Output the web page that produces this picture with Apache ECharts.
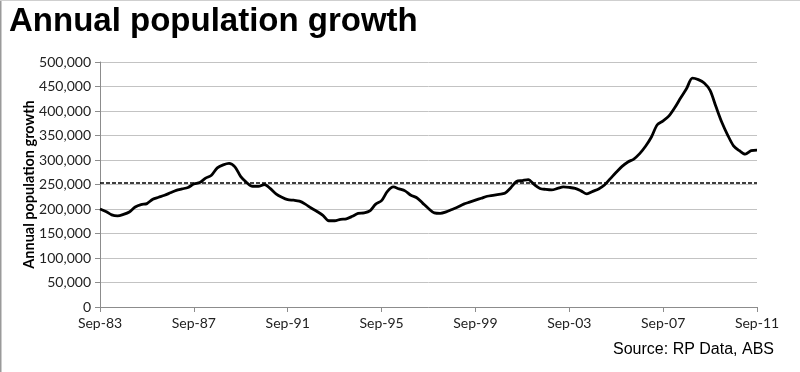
<!DOCTYPE html>
<html>
<head>
<meta charset="utf-8">
<script src="https://cdn.jsdelivr.net/npm/echarts@6/dist/echarts.min.js"></script>
<style>
html,body{margin:0;padding:0;background:#fff;}
#c{width:800px;height:372px;}
</style>
</head>
<body>
<div id="c"></div>
<script>
// Quarterly categories Sep-83 .. Sep-11
var quarterMonths = ['Sep', 'Dec', 'Mar', 'Jun'];
var categories = [];
(function () {
  var yr = 83;
  for (var i = 0; i < 113; i++) {
    var m = quarterMonths[i % 4];
    var y = (m === 'Sep' || m === 'Dec') ? yr + Math.floor(i / 4) : yr + Math.floor(i / 4) + 1;
    categories.push(m + '-' + String(y % 100).padStart(2, '0'));
  }
})();

// Annual population growth (persons)
var growthValues = [
  200000, 195000, 188000, 186000, 189000, 194000, 204000, 209000, 211000, 220000,
  224000, 228000, 233000, 238000, 241000, 244000, 251000, 254000, 263000, 269000,
  284000, 290000, 293000, 286000, 266000, 254000, 246000, 246000, 250000, 242000,
  231000, 224000, 219000, 218000, 216000, 210000, 202000, 195000, 187000, 176000,
  176000, 179000, 180000, 185000, 191000, 192000, 196000, 210000, 217000, 236000,
  245000, 241000, 237000, 228000, 223000, 212000, 201000, 192000, 191000, 194000,
  199000, 204000, 210000, 214000, 218000, 222000, 226000, 228000, 230000, 232000,
  243000, 256000, 258000, 260000, 250000, 242000, 240000, 239000, 242000, 245000,
  244000, 242000, 237000, 231000, 236000, 241000, 249000, 262000, 275000, 287000,
  296000, 302000, 313000, 328000, 347000, 372000, 380000, 390000, 407000, 427000,
  446000, 467000, 464000, 457000, 442000, 409000, 377000, 351000, 329000, 319000,
  312000, 319000, 320000
];

// Long-run average (dashed line)
var averageGrowth = 253000;

var yTicks = { min: 0, max: 500000, interval: 50000 };

var titleText = 'Annual population growth';
var yAxisName = 'Annual population growth';
var sourceText = 'Source: RP Data, ABS';

var chart = echarts.init(document.getElementById('c'), null, { renderer: 'canvas' });
chart.setOption({
  animation: false,
  backgroundColor: '#ffffff',
  title: {
    text: titleText,
    left: 4,
    top: 0,
    textStyle: { fontFamily: 'Liberation Sans', fontWeight: 'bold', fontSize: 33, color: '#000' }
  },
  grid: { left: 100, right: 43, top: 62, bottom: 65, containLabel: false },
  xAxis: {
    type: 'category',
    data: categories,
    boundaryGap: false,
    axisLine: { lineStyle: { color: '#8c8c8c', width: 1 } },
    axisTick: { show: true, interval: 15, length: 5, lineStyle: { color: '#8c8c8c' } },
    axisLabel: {
      interval: 15, color: '#222', fontFamily: 'Lato', fontSize: 14, margin: 9
    },
    splitLine: { show: false }
  },
  yAxis: {
    type: 'value',
    min: yTicks.min, max: yTicks.max, interval: yTicks.interval,
    name: yAxisName,
    nameLocation: 'middle',
    nameGap: 63,
    nameMoveOverlap: false,
    nameTextStyle: { fontFamily: 'Lato', fontWeight: 'bold', fontSize: 14.5, color: '#000' },
    axisLine: { show: true, lineStyle: { color: '#8c8c8c', width: 1 } },
    axisTick: { show: true, length: 5, lineStyle: { color: '#8c8c8c' } },
    axisLabel: {
      color: '#222', fontFamily: 'Lato', fontSize: 14, margin: 9,
      formatter: function (v) { return v.toLocaleString('en-US'); }
    },
    splitLine: { show: true, lineStyle: { color: '#c3c3c3', width: 1 } }
  },
  series: [{
    type: 'line',
    data: growthValues,
    smooth: 0.3,
    symbol: 'none',
    lineStyle: { color: '#000', width: 2.8 },
    markLine: {
      silent: true,
      symbol: 'none',
      label: { show: false },
      lineStyle: { color: '#000', width: 1.6, type: [4, 2] },
      data: [{ yAxis: averageGrowth }]
    }
  }],
  graphic: [
    {
      type: 'text',
      right: 26,
      top: 342,
      style: { text: sourceText, fontFamily: 'Liberation Sans', fontSize: 16, fill: '#000' }
    },
    {
      type: 'line',
      shape: { x1: 0.5, y1: 0, x2: 0.5, y2: 372 },
      style: { stroke: '#9a9a9a', lineWidth: 2 }
    },
    {
      type: 'line',
      shape: { x1: 0, y1: 0.5, x2: 800, y2: 0.5 },
      style: { stroke: '#cfcfcf', lineWidth: 1 }
    }
  ]
});
</script>
</body>
</html>
